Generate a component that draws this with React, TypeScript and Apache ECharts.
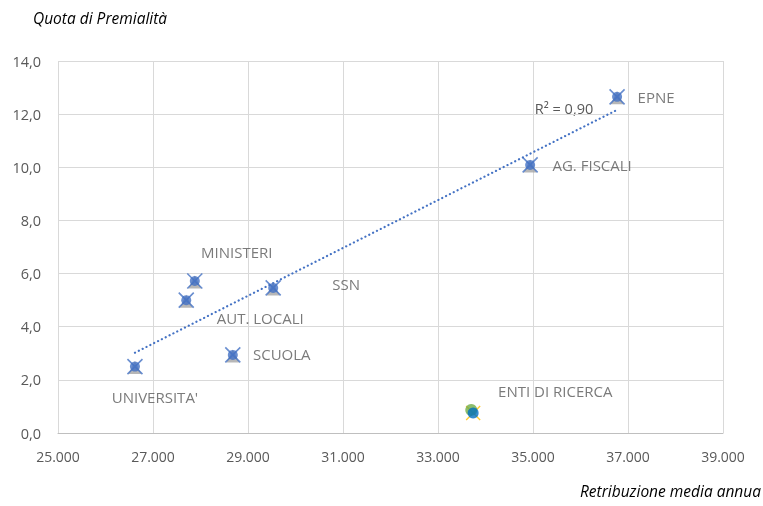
import React, { useEffect, useRef } from "react";
import * as echarts from "echarts";

const categories = ["UNIVERSITA'", "AUT. LOCALI", "MINISTERI", "SCUOLA", "SSN", "AG. FISCALI", "EPNE"];
const retribuzione = [26620, 27700, 27880, 28680, 29530, 34940, 36770];
const quota = [2.5, 5.0, 5.72, 2.94, 5.46, 10.09, 12.65];
const labelOffsets: [number, number][] = [
  [20, 30], [74, 18], [42, -29], [49, -1], [73, -4], [62, 0], [39, 0],
];
const entiName = "ENTI DI RICERCA";
const entiX = [33700, 33740];
const entiY = [0.87, 0.75];
const entiLabelOffset: [number, number] = [84, -19];
const xTicks = { min: 25000, max: 39000, interval: 2000 };
const yTicks = { min: 0, max: 14, interval: 2 };
const r2Text = "R² = 0,90";
const yTitle = "Quota di Premialità";
const xTitle = "Retribuzione media annua";

const FONT = "'Open Sans', sans-serif";
const GREY = "#595959";
const BLUE = "#4472c4";

function regression(xs: number[], ys: number[]) {
  const n = xs.length;
  const mx = xs.reduce((a, b) => a + b, 0) / n;
  const my = ys.reduce((a, b) => a + b, 0) / n;
  let sxy = 0, sxx = 0;
  for (let i = 0; i < n; i++) {
    sxy += (xs[i] - mx) * (ys[i] - my);
    sxx += (xs[i] - mx) ** 2;
  }
  const b = sxy / sxx;
  return { a: my - b * mx, b };
}

export default function App() {
  const ref = useRef<HTMLDivElement>(null);
  useEffect(() => {
    const chart = echarts.init(ref.current!, null, { renderer: "svg" });
    const { a, b } = regression(retribuzione, quota);
    const xmin = Math.min(...retribuzione);
    const xmax = Math.max(...retribuzione);
    const pts = retribuzione.map((x, i) => [x, quota[i]]);
    const labelled = pts.map((p, i) => ({
      value: p,
      name: categories[i],
      label: {
        show: true,
        formatter: categories[i],
        position: "inside" as const,
        offset: labelOffsets[i],
      },
    }));
    chart.setOption({
      animation: false,
      textStyle: { fontFamily: FONT },
      grid: { left: 58, right: 40, top: 61, bottom: 73, containLabel: false },
      xAxis: {
        type: "value",
        min: xTicks.min,
        max: xTicks.max,
        interval: xTicks.interval,
        axisLine: { show: true, lineStyle: { color: "#bfbfbf", width: 1 } },
        axisTick: { show: false },
        splitLine: { show: true, lineStyle: { color: "#d9d9d9", width: 1 } },
        axisLabel: {
          color: GREY,
          fontSize: 14,
          fontFamily: FONT,
          margin: 16,
          formatter: (v: number) => v.toLocaleString("it-IT").replace(/\s/g, "."),
        },
      },
      yAxis: {
        type: "value",
        min: yTicks.min,
        max: yTicks.max,
        interval: yTicks.interval,
        axisLine: { show: false },
        axisTick: { show: false },
        splitLine: { show: true, lineStyle: { color: "#d9d9d9", width: 1 } },
        axisLabel: {
          color: GREY,
          fontSize: 14.5,
          fontFamily: FONT,
          margin: 17,
          formatter: (v: number) => v.toFixed(1).replace(".", ","),
        },
      },
      graphic: [
        {
          type: "text",
          x: 33,
          y: 18,
          style: { text: yTitle, fontSize: 15.5, fontStyle: "italic", fill: "#000", fontFamily: FONT, textVerticalAlign: "middle" },
        },
        {
          type: "text",
          x: 761,
          y: 491,
          style: { text: xTitle, fontSize: 15.5, fontStyle: "italic", fill: "#000", fontFamily: FONT, textAlign: "right", textVerticalAlign: "middle" },
        },
        {
          type: "text",
          x: 564,
          y: 108,
          style: { text: r2Text, fontSize: 14.5, fill: GREY, fontFamily: FONT, textAlign: "center", textVerticalAlign: "middle" },
        },
      ],
      series: [
        {
          type: "line",
          data: [[xmin, a + b * xmin], [xmax, a + b * xmax]],
          showSymbol: false,
          symbol: "none",
          lineStyle: { color: BLUE, width: 2.2, type: [0.1, 4.2], cap: "round" },
          z: 1,
          silent: true,
        },
        {
          type: "scatter",
          data: pts,
          symbol: "triangle",
          symbolSize: 13,
          symbolOffset: [0, 1],
          itemStyle: { color: "#a5a5a5" },
          z: 2,
        },
        {
          type: "scatter",
          data: pts,
          symbol: "path://M0,0 L10,10 M10,0 L0,10",
          symbolSize: 15,
          itemStyle: { color: "none", borderColor: BLUE, borderWidth: 1.6 },
          z: 3,
        },
        {
          type: "scatter",
          data: labelled,
          symbol: "circle",
          symbolSize: 10,
          itemStyle: { color: BLUE },
          label: { color: GREY, fontSize: 15, fontFamily: FONT },
          z: 4,
        },
        {
          type: "scatter",
          data: [[entiX[1], entiY[1]]],
          symbol: "path://M0,0 L10,10 M10,0 L0,10",
          symbolSize: 14,
          itemStyle: { color: "none", borderColor: "#ffc000", borderWidth: 1.4 },
          z: 5,
        },
        {
          type: "scatter",
          data: [
            {
              value: [entiX[0], entiY[0]],
              label: { show: true, formatter: entiName, position: "inside", offset: entiLabelOffset, color: GREY, fontSize: 15, fontFamily: FONT },
            },
          ],
          symbol: "circle",
          symbolSize: 12,
          itemStyle: { color: "#70ad47" },
          z: 6,
        },
        {
          type: "scatter",
          data: [[entiX[1], entiY[1]]],
          symbol: "circle",
          symbolSize: 11,
          itemStyle: { color: "#0070c0" },
          z: 7,
        },
      ],
    });
    return () => chart.dispose();
  }, []);
  return <div ref={ref} style={{ position: "fixed", left: 0, top: 0, width: 763, height: 506 }} />;
}
